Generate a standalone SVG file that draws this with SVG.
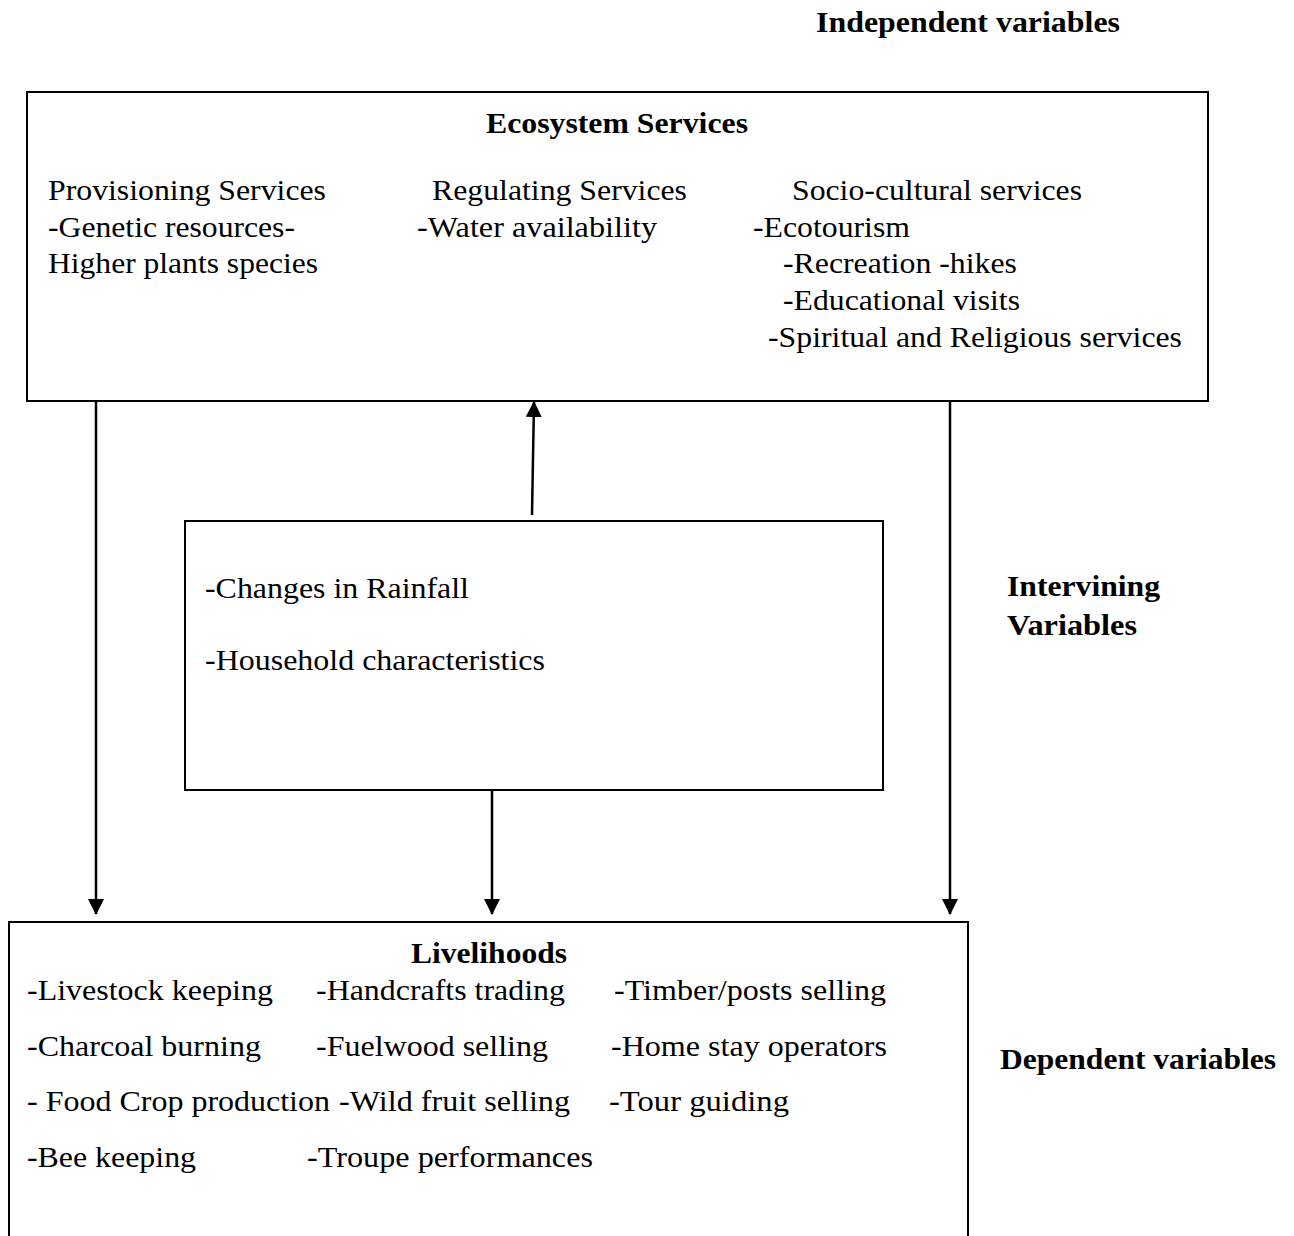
<svg xmlns="http://www.w3.org/2000/svg" width="1294" height="1236" viewBox="0 0 1294 1236">
<style>
text{font-family:"Liberation Serif","Times New Roman",serif;font-size:29px;fill:#000}
.b{font-weight:bold}
.box{fill:none;stroke:#000;stroke-width:2}
.ln{stroke:#000;stroke-width:2.5;fill:none}
</style>
<defs>
<marker id="ah" markerUnits="userSpaceOnUse" markerWidth="16" markerHeight="16" refX="15" refY="8" orient="auto" viewBox="0 0 16 16">
<path d="M0,0 L16,8 L0,16 Z" fill="#000"/>
</marker>
</defs>
<rect width="1294" height="1236" fill="#fff"/>
<g id="label-independent">
<text class="b" x="816" y="32" textLength="304" lengthAdjust="spacingAndGlyphs">Independent variables</text>
</g>
<g id="ecosystem-services">
<rect class="box" x="27" y="92" width="1181" height="309"/>
<text class="b" x="486" y="133" textLength="262" lengthAdjust="spacingAndGlyphs">Ecosystem Services</text>
<text x="48" y="200" textLength="278" lengthAdjust="spacingAndGlyphs">Provisioning Services</text>
<text x="48" y="237" textLength="247" lengthAdjust="spacingAndGlyphs">-Genetic resources-</text>
<text x="48" y="273" textLength="270" lengthAdjust="spacingAndGlyphs">Higher plants species</text>
<text x="432" y="200" textLength="255" lengthAdjust="spacingAndGlyphs">Regulating Services</text>
<text x="417" y="237" textLength="240" lengthAdjust="spacingAndGlyphs">-Water availability</text>
<text x="792" y="200" textLength="290" lengthAdjust="spacingAndGlyphs">Socio-cultural services</text>
<text x="753" y="237" textLength="157" lengthAdjust="spacingAndGlyphs">-Ecotourism</text>
<text x="783" y="273" textLength="234" lengthAdjust="spacingAndGlyphs">-Recreation -hikes</text>
<text x="783" y="310" textLength="237" lengthAdjust="spacingAndGlyphs">-Educational visits</text>
<text x="768" y="347" textLength="414" lengthAdjust="spacingAndGlyphs">-Spiritual and Religious services</text>
</g>
<g id="intervening">
<rect class="box" x="185" y="521" width="698" height="269"/>
<text x="205" y="598" textLength="264" lengthAdjust="spacingAndGlyphs">-Changes in Rainfall</text>
<text x="205" y="670" textLength="340" lengthAdjust="spacingAndGlyphs">-Household characteristics</text>
</g>
<g id="label-intervening">
<text class="b" x="1007" y="596" textLength="153" lengthAdjust="spacingAndGlyphs">Intervining</text>
<text class="b" x="1007" y="635" textLength="130" lengthAdjust="spacingAndGlyphs">Variables</text>
</g>
<g id="livelihoods">
<path class="box" d="M9,1236 V922 H968 V1236"/>
<text class="b" x="411" y="963" textLength="156" lengthAdjust="spacingAndGlyphs">Livelihoods</text>
<text x="27" y="1000" textLength="246" lengthAdjust="spacingAndGlyphs">-Livestock keeping</text>
<text x="316" y="1000" textLength="249" lengthAdjust="spacingAndGlyphs">-Handcrafts trading</text>
<text x="614" y="1000" textLength="272" lengthAdjust="spacingAndGlyphs">-Timber/posts selling</text>
<text x="27" y="1056" textLength="234" lengthAdjust="spacingAndGlyphs">-Charcoal burning</text>
<text x="316" y="1056" textLength="232" lengthAdjust="spacingAndGlyphs">-Fuelwood selling</text>
<text x="611" y="1056" textLength="276" lengthAdjust="spacingAndGlyphs">-Home stay operators</text>
<text x="27" y="1111" textLength="303" lengthAdjust="spacingAndGlyphs">- Food Crop production</text>
<text x="339" y="1111" textLength="231" lengthAdjust="spacingAndGlyphs">-Wild fruit selling</text>
<text x="609" y="1111" textLength="180" lengthAdjust="spacingAndGlyphs">-Tour guiding</text>
<text x="27" y="1167" textLength="169" lengthAdjust="spacingAndGlyphs">-Bee keeping</text>
<text x="307" y="1167" textLength="286" lengthAdjust="spacingAndGlyphs">-Troupe performances</text>
</g>
<g id="label-dependent">
<text class="b" x="1000" y="1069" textLength="276" lengthAdjust="spacingAndGlyphs">Dependent variables</text>
</g>
<g id="connectors">
<line class="ln" x1="96" y1="401" x2="96" y2="914" marker-end="url(#ah)"/>
<line class="ln" x1="492" y1="790" x2="492" y2="914" marker-end="url(#ah)"/>
<line class="ln" x1="950" y1="401" x2="950" y2="914" marker-end="url(#ah)"/>
<line class="ln" x1="532" y1="515" x2="534" y2="402" marker-end="url(#ah)"/>
</g>
</svg>
